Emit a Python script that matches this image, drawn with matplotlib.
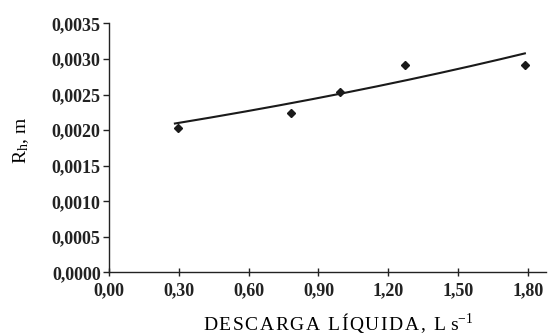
import numpy as np
import matplotlib
matplotlib.use("Agg")
import matplotlib.pyplot as plt
from matplotlib.ticker import FixedLocator, FuncFormatter

# Data
descarga = [0.295, 0.782, 0.992, 1.273, 1.787]
rh = [0.002036, 0.002242, 0.002537, 0.002917, 0.002917]

# Trend line (exponential) coefficients
trend_a = 0.001946
trend_b = 0.2565
trend_range = [0.283, 1.787]

xticks = [0.0, 0.3, 0.6, 0.9, 1.2, 1.5, 1.8]
yticks = [0.0, 0.0005, 0.0010, 0.0015, 0.0020, 0.0025, 0.0030, 0.0035]

plt.rcParams['font.family'] = ['Liberation Serif', 'DejaVu Serif']
plt.rcParams['mathtext.fontset'] = 'custom'
plt.rcParams['mathtext.rm'] = 'Liberation Serif'
plt.rcParams['mathtext.it'] = 'Liberation Serif'

fig = plt.figure(figsize=(5.48, 3.35), dpi=100)
ax = fig.add_axes([0.199, 0.1866, 0.797, 0.7438])

xt = np.linspace(trend_range[0], trend_range[1], 200)
ax.plot(xt, trend_a * np.exp(trend_b * xt), color='#1a1a1a', lw=1.5)
ax.plot(descarga, rh, linestyle='none', marker='D', ms=3.6, color='#1a1a1a')

ax.set_xlim(0, 1.877)
ax.set_ylim(0, 0.0035)
ax.xaxis.set_major_locator(FixedLocator(xticks))
ax.yaxis.set_major_locator(FixedLocator(yticks))
ax.xaxis.set_major_formatter(FuncFormatter(lambda v, p: f"{v:.2f}".replace('.', ',')))
ax.yaxis.set_major_formatter(FuncFormatter(lambda v, p: f"{v:.4f}".replace('.', ',')))

for s in ['top', 'right']:
    ax.spines[s].set_visible(False)
for s in ['left', 'bottom']:
    ax.spines[s].set_linewidth(1.0)
    ax.spines[s].set_color('#222222')

ax.tick_params(axis='x', direction='inout', length=6, width=1, pad=4, colors='#222222')
ax.tick_params(axis='y', direction='out', length=4, width=1, pad=2, colors='#222222')
for lab in ax.get_xticklabels() + ax.get_yticklabels():
    lab.set_fontweight('bold')
    lab.set_fontsize(13)

xlabel_text = '\u200a'.join('DESCARGA LÍQUIDA, L') + ' s'
ax.set_xlabel(xlabel_text + '$^{\\mathregular{-1}}$', fontsize=14, va='center')
ax.xaxis.set_label_coords(0.525, -0.203)
ax.set_ylabel('R$_\\mathregular{h}$, m', fontsize=14)
ax.yaxis.set_label_coords(-0.178, 0.53)

fig.savefig('out.png', dpi=100)
